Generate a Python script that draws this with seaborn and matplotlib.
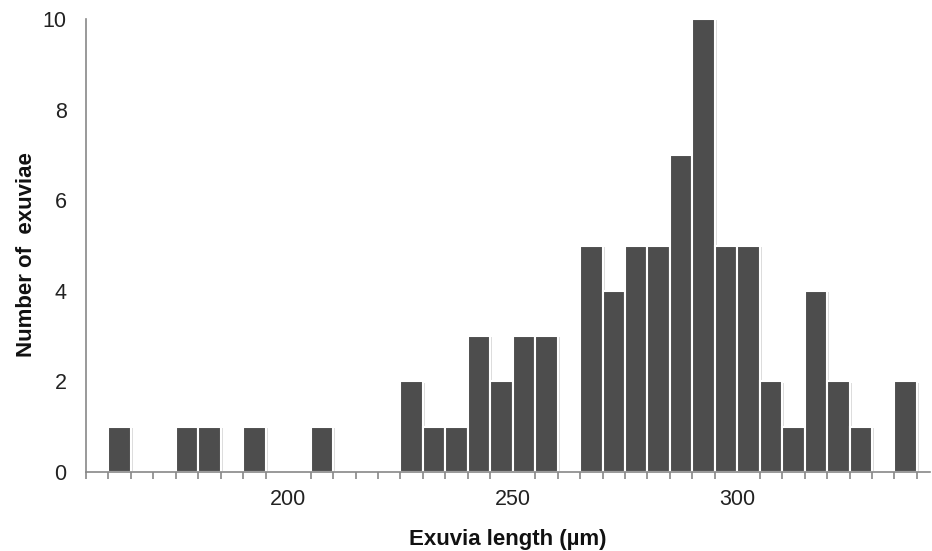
import numpy as np
import seaborn as sns
import matplotlib.pyplot as plt
import matplotlib.patheffects as pe
from matplotlib.ticker import MultipleLocator

# Histogram of exuvia lengths, 5 µm bins from 155 to 340
bin_edges = list(range(155, 345, 5))
counts = [0, 1, 0, 0, 1, 1, 0, 1, 0, 0,
          1, 0, 0, 0, 2, 1, 1, 3, 2, 3,
          3, 0, 5, 4, 5, 5, 7, 10, 5, 5,
          2, 1, 4, 2, 1, 0, 2]
bin_centers = [e + 2.5 for e in bin_edges[:-1]]

sns.set_style("white")
plt.rcParams['font.family'] = ['Liberation Sans', 'DejaVu Sans']

fig = plt.figure(figsize=(9.32, 5.51), dpi=100)
ax = fig.add_axes([0.0923, 0.1434, 0.906, 0.822])

sns.histplot(x=bin_centers, weights=counts, bins=bin_edges, ax=ax,
             color='#4d4d4d', alpha=1, edgecolor='white', linewidth=1.5)

# faint drop shadow like the original
for p in ax.patches:
    p.set_path_effects([pe.SimplePatchShadow(offset=(1.5, -1), shadow_rgbFace='#bbbbbb', alpha=0.5),
                        pe.Normal()])

ax.set_xlim(155, 343)
ax.set_ylim(0, 10)
ax.set_xticks([200, 250, 300])
ax.xaxis.set_minor_locator(MultipleLocator(5))
ax.set_yticks([0, 2, 4, 6, 8, 10])

sns.despine(ax=ax)
for s in ['left', 'bottom']:
    ax.spines[s].set_color('#888888')
    ax.spines[s].set_linewidth(1.2)

ax.tick_params(axis='both', which='both', direction='out', length=5,
               width=1.2, color='#888888', labelsize=15.5, labelcolor='#222222')
ax.tick_params(axis='x', which='major', pad=7)
ax.tick_params(axis='y', which='major', pad=9)
ax.tick_params(axis='x', which='minor', bottom=True)

ax.set_xlabel('Exuvia length (µm)', fontsize=16, fontweight='bold',
              color='#111111', labelpad=14)
ax.set_ylabel('Number of  exuviae', fontsize=16, fontweight='bold',
              color='#111111', labelpad=8)
ax.yaxis.set_label_coords(-0.058, 0.48)

plt.savefig('out.png', dpi=100)
